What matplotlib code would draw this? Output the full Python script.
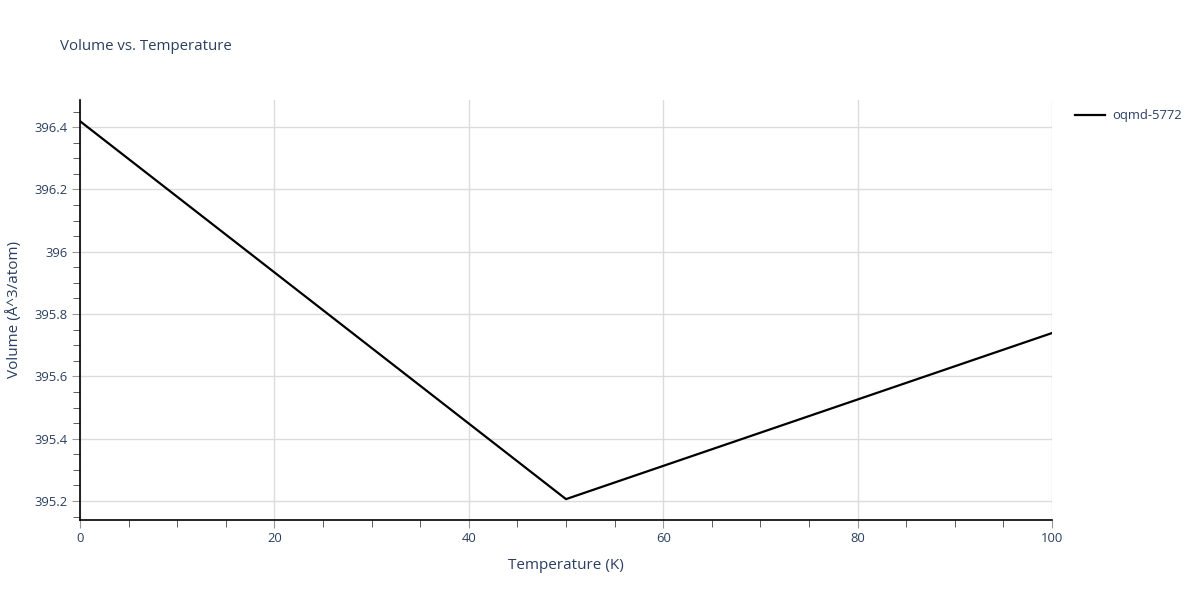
import numpy as np
import matplotlib
matplotlib.use('Agg')
from matplotlib import pyplot as plt
from matplotlib.ticker import MultipleLocator, FuncFormatter
from matplotlib.lines import Line2D

temperature = [0, 50, 100]
volume = [396.419, 395.206, 395.739]
series_name = 'oqmd-5772'

txt = '#2a3f5f'
plt.rcParams['font.family'] = ['Open Sans', 'DejaVu Sans']

fig = plt.figure(figsize=(12, 6), dpi=100)
ax = fig.add_axes([80/1200, 80/600, 972/1200, 420/600])

ax.plot(temperature, volume, color='black', lw=1.6)

ax.set_xlim(0, 100)
ax.set_ylim(395.139, 396.487)

ax.xaxis.set_major_locator(MultipleLocator(20))
ax.xaxis.set_minor_locator(MultipleLocator(5))
ax.yaxis.set_major_locator(MultipleLocator(0.2))
ax.yaxis.set_minor_locator(MultipleLocator(0.05))
ax.yaxis.set_major_formatter(FuncFormatter(lambda v, p: f'{round(v, 3):g}'))

ax.grid(True, which='major', color='#dcdcdc', lw=1)
ax.set_axisbelow(True)
for s in ['top', 'right']:
    ax.spines[s].set_visible(False)
for s in ['left', 'bottom']:
    ax.spines[s].set_color('black')
    ax.spines[s].set_linewidth(1.2)

ax.tick_params(which='major', length=6, color='#999999', labelsize=9.4, labelcolor=txt, pad=3)
ax.tick_params(which='minor', length=5, color='#444444')

ax.set_xlabel('Temperature (K)', fontsize=11, color=txt, labelpad=9)
ax.set_ylabel('Volume (Å^3/atom)', fontsize=11, color=txt, labelpad=9)

fig.text(60/1200, 1 - 46/600, 'Volume vs. Temperature', fontsize=10.8, color=txt, va='center')

handle = Line2D([0], [0], color='black', lw=1.6)
leg = fig.legend([handle], [series_name], loc='upper left', bbox_to_anchor=(1070/1200, 1 - 104/600),
                 frameon=False, fontsize=9.4, handlelength=2.3, handletextpad=0.5, borderaxespad=0)
for t in leg.get_texts():
    t.set_color(txt)

fig.savefig('out.png', dpi=100)
